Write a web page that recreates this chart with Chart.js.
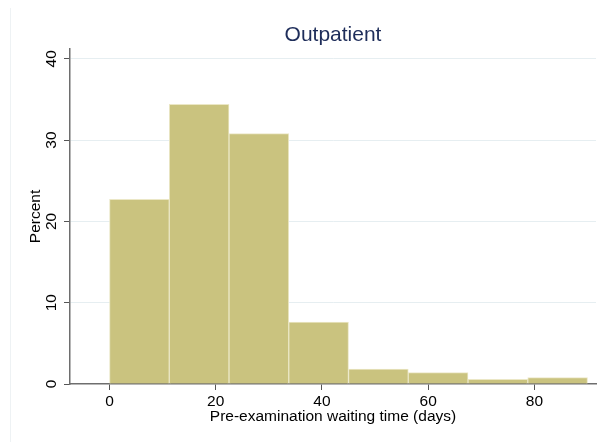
<!DOCTYPE html>
<html>
<head>
<meta charset="utf-8">
<script src="https://cdn.jsdelivr.net/npm/chart.js@4.4.0/dist/chart.umd.min.js"></script>
<style>
  html, body { margin: 0; padding: 0; background: #fff; }
  #wrap { position: relative; width: 599px; height: 442px; }
  #frame { position: absolute; left: 10px; top: 8px; width: 1px; height: 434px; background: #eef2f4; }
</style>
</head>
<body>
<div id="wrap">
  <div id="frame"></div>
  <canvas id="HistChart" width="599" height="442"></canvas>
</div>
<script>
// bin edges in days, and percent per bin
const binEdges = [0, 11.25, 22.5, 33.75, 45, 56.25, 67.5, 78.75, 90];
const percents = [22.7, 34.4, 30.8, 7.6, 1.85, 1.4, 0.58, 0.78];
const xTicks = [0, 20, 40, 60, 80];
const yTicks = [0, 10, 20, 30, 40];

const titleText = "Outpatient";
const xTitle = "Pre-examination waiting time (days)";
const yTitle = "Percent";

const points = [];
for (let i = 0; i < percents.length; i++) {
    points.push({ x: (binEdges[i] + binEdges[i + 1]) / 2, y: percents[i] });
}

const FONT = "'Liberation Sans', Arial, sans-serif";
const LABEL_SIZE = 15.5;

// draws the title and the rotated y tick labels
const stataText = {
    id: 'stataText',
    afterDraw(chart) {
        const c = chart.ctx;
        const area = chart.chartArea;
        c.save();
        c.fillStyle = '#1e2d5a';
        c.font = '21px ' + FONT;
        c.textAlign = 'center';
        c.textBaseline = 'middle';
        c.fillText(titleText, (area.left + area.right) / 2, 35);

        const ys = chart.scales.y;
        c.fillStyle = '#000';
        c.font = LABEL_SIZE + 'px ' + FONT;
        yTicks.forEach(function (v) {
            const py = ys.getPixelForValue(v);
            c.save();
            c.translate(52, py);
            c.rotate(-Math.PI / 2);
            c.fillText(String(v), 0, 0);
            c.restore();
        });
        c.restore();
    }
};

new Chart(document.getElementById('HistChart'), {
    type: 'bar',
    data: {
        datasets: [{
            label: yTitle,
            data: points,
            backgroundColor: '#cac37f',
            borderColor: '#ebe7c6',
            borderWidth: 1,
            barPercentage: 1,
            categoryPercentage: 1,
            grouped: false
        }]
    },
    options: {
        responsive: false,
        animation: false,
        layout: { padding: { left: 0, right: 3, top: 49, bottom: 0 } },
        plugins: {
            legend: { display: false },
            tooltip: { enabled: false }
        },
        scales: {
            x: {
                type: 'linear',
                offset: false,
                min: -7.44,
                max: 91.6,
                afterFit: function (s) { s.height = 58; },
                afterBuildTicks: function (s) { s.ticks = xTicks.map(function (v) { return { value: v }; }); },
                ticks: {
                    color: '#000',
                    font: { family: FONT, size: LABEL_SIZE },
                    padding: 2,
                    maxRotation: 0,
                    includeBounds: false
                },
                grid: {
                    offset: false,
                    drawOnChartArea: false,
                    tickLength: 6,
                    tickColor: '#555'
                },
                border: { color: '#6e6e6e', width: 1.5 },
                title: {
                    display: true,
                    text: xTitle,
                    color: '#000',
                    font: { family: FONT, size: LABEL_SIZE },
                    padding: { top: 0, bottom: 16 }
                }
            },
            y: {
                min: 0,
                max: 41.2,
                afterFit: function (s) { s.width = 70; },
                afterBuildTicks: function (s) { s.ticks = yTicks.map(function (v) { return { value: v }; }); },
                ticks: { display: false },
                grid: {
                    color: function (ctx) { return ctx.tick && ctx.tick.value === 0 ? 'rgba(0,0,0,0)' : '#e6eef1'; },
                    tickLength: 6,
                    tickColor: '#555'
                },
                border: { color: '#6e6e6e', width: 1.5 },
                title: {
                    display: true,
                    text: yTitle,
                    color: '#000',
                    font: { family: FONT, size: LABEL_SIZE },
                    padding: { top: 26, bottom: 0 }
                }
            }
        }
    },
    plugins: [stataText]
});
</script>
</body>
</html>
